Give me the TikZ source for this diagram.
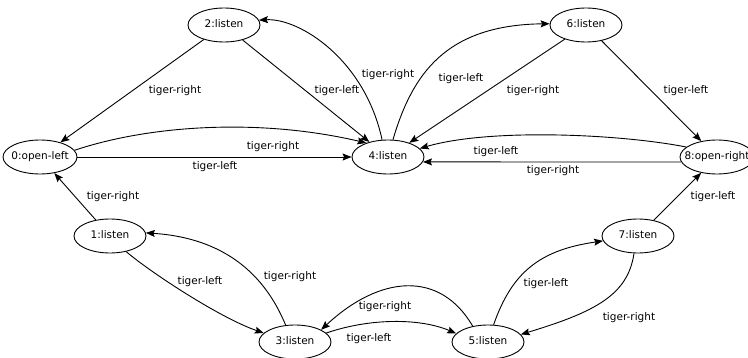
\documentclass[tikz,border=0pt]{standalone}
\usepackage{fontspec}
\setmainfont{DejaVu Sans}
\usetikzlibrary{arrows.meta,shapes.geometric}
\begin{document}
\begin{tikzpicture}[x=1pt,y=-1pt,
  state/.style={ellipse,draw,line width=0.9pt,minimum width=72pt,minimum height=34pt,
    inner sep=0pt,text height=7.8pt,text depth=2.2pt,font=\fontsize{10.5}{12}\selectfont},
  wide/.style={minimum width=74pt},
  lbl/.style={inner sep=0pt,text height=7.8pt,text depth=2.2pt,font=\fontsize{10.5}{12}\selectfont},
  edge/.style={line width=0.9pt,-{Stealth[length=9pt,width=7pt,inset=1.5pt]}},
]
\useasboundingbox (0,0) rectangle (748,358);
\clip (0,0) rectangle (748,358);

% states
\node[state,wide] (0) at (40,157)  {\makebox[0pt]{0:open-left}};
\node[state]      (1) at (110,236) {\makebox[0pt]{1:listen}};
\node[state]      (2) at (224,25)  {\makebox[0pt]{2:listen}};
\node[state]      (3) at (295,342) {\makebox[0pt]{3:listen}};
\node[state]      (4) at (388,157) {\makebox[0pt]{4:listen}};
\node[state]      (5) at (488,342) {\makebox[0pt]{5:listen}};
\node[state]      (6) at (586,25)  {\makebox[0pt]{6:listen}};
\node[state]      (7) at (638,236) {\makebox[0pt]{7:listen}};
\node[state,wide] (8) at (717,157) {\makebox[0pt]{8:open-right}};

% transitions
\draw[edge] (2) -- (0);
\draw[edge] (2) -- (4);
\draw[edge] (4.109) .. controls (365,60) and (300,18) .. (2.8);
\draw[edge] (0.11) .. controls (150,125) and (260,118) .. (4.147);
\draw[edge] (0) -- (4);
\draw[edge] (4.74) .. controls (412,75) and (445,25) .. (6.178);
\draw[edge] (6) -- (4);
\draw[edge] (6) -- (8);
\draw[edge] (8.162) .. controls (620,134) and (490,128) .. (4.15);
\draw[edge] (8.188) -- (4.352);
\draw[edge] (1) -- (0);
\draw[edge] (1.316) .. controls (150,272) and (220,318) .. (3.164);
\draw[edge] (3.119) .. controls (265,275) and (225,238) .. (1.5);
\draw[edge] (3.16) .. controls (370,318) and (420,318) .. (5.165);
\draw[edge] (5.134) .. controls (440,270) and (380,275) .. (3.25);
\draw[edge] (5.72) .. controls (512,272) and (540,250) .. (7.188);
\draw[edge] (7.257) .. controls (628,295) and (595,312) .. (5.13);
\draw[edge] (7) -- (8);

% transition labels
\node[lbl] (l20) at (175,91)  {tiger-right};
\node[lbl] (l24) at (337,91)  {tiger-left};
\node[lbl] (l42) at (388,75)  {tiger-right};
\node[lbl] (l04a) at (273,147) {tiger-right};
\node[lbl] (l04b) at (215,167) {tiger-left};
\node[lbl] (l46) at (461,79)  {tiger-left};
\node[lbl] (l64) at (533,91)  {tiger-right};
\node[lbl] (l68) at (686,91)  {tiger-left};
\node[lbl] (l84a) at (496,152) {tiger-left};
\node[lbl] (l84b) at (553,171) {tiger-right};
\node[lbl] (l10) at (113,197) {tiger-right};
\node[lbl] (l13) at (200,282) {tiger-left};
\node[lbl] (l31) at (290,277) {tiger-right};
\node[lbl] (l35) at (369,339) {tiger-left};
\node[lbl] (l53) at (385,307) {tiger-right};
\node[lbl] (l57) at (546,284) {tiger-left};
\node[lbl] (l75) at (629,318) {tiger-right};
\node[lbl] (l78) at (713,197) {tiger-left};
\end{tikzpicture}
\end{document}
